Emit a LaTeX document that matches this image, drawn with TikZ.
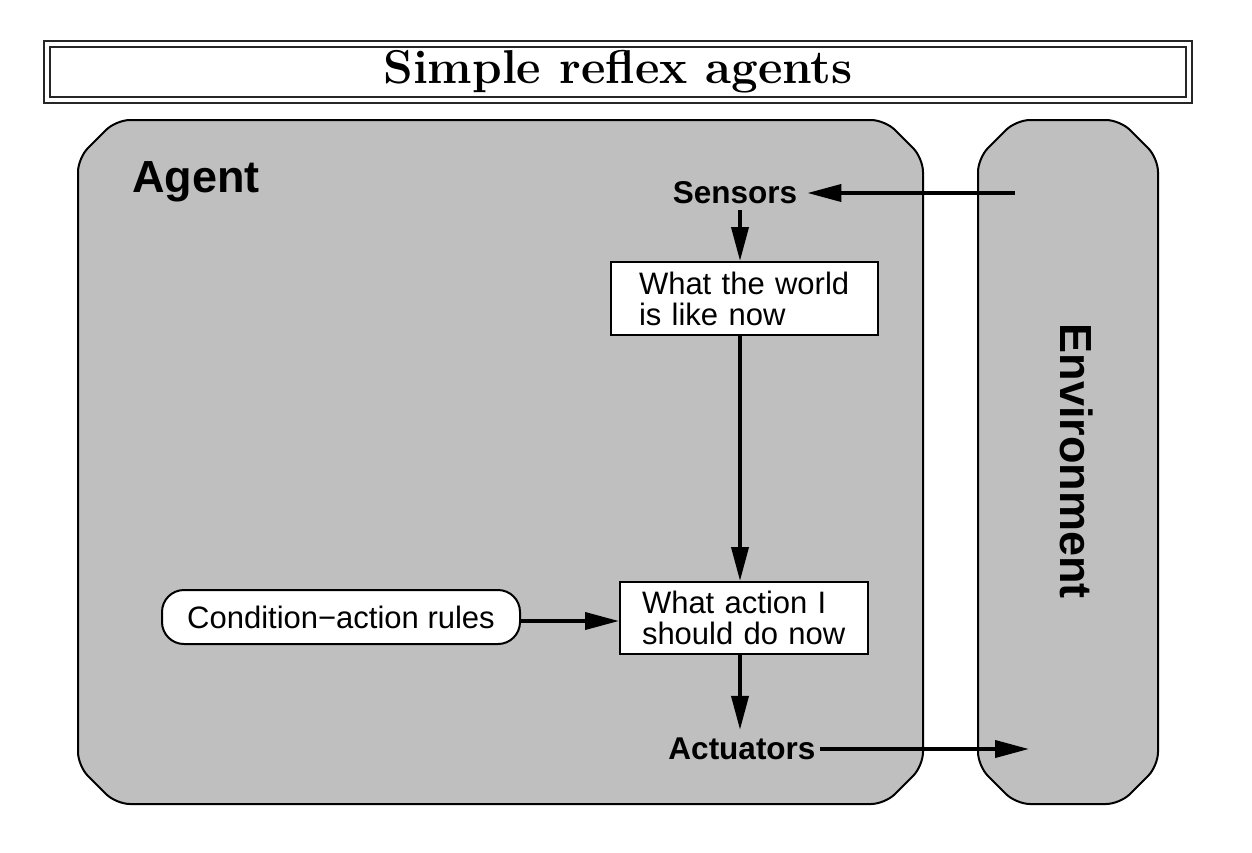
\documentclass[tikz,border=0pt]{standalone}
\usepackage{fontspec}
\setsansfont{Liberation Sans}
\usetikzlibrary{arrows.meta,calc}
\definecolor{boxgray}{RGB}{191,191,191}
\begin{document}
\begin{tikzpicture}[x=1pt,y=-1pt,
  outer/.style={draw=black,fill=boxgray,line width=2pt,rounded corners=14pt},
  arr/.style={line width=3.8pt,-{Triangle[length=34pt,width=17pt]}},
  lbl/.style={font=\sffamily\bfseries\fontsize{31.5}{34}\selectfont,inner sep=0pt},
  big/.style={font=\sffamily\bfseries\fontsize{45}{50}\selectfont,inner sep=0pt},
  wbox/.style={draw=black,fill=white,line width=2pt,font=\sffamily\fontsize{31}{31}\selectfont,align=left,inner ysep=0pt}
]
\useasboundingbox (0,0) rectangle (1252,852);
% title
\node[draw=black!85,double,double distance=4.5pt,line width=1.8pt,minimum width=1142pt,minimum height=56pt,inner sep=0pt,
      font=\bfseries\fontsize{47.5}{50}\selectfont] (title) at (618,72) {Simple reflex agents};
% agent box
\draw[outer] (500,120) -- (885,120) -- (923,158) -- (923,766) -- (885,804) -- (116,804) -- (78,766) -- (78,158) -- (116,120) -- cycle;
% environment box
\draw[outer] (1068,120) -- (1120,120) -- (1158,158) -- (1158,766) -- (1120,804) -- (1016,804) -- (978,766) -- (978,158) -- (1016,120) -- cycle;
\node[big,anchor=base west] (agent) at (132,192) {Agent};
\node[big,rotate=-90] (env) at (1077,461) {Environment};
\coordinate (ax) at (740,0);
\coordinate (envin) at (1015,193);
\coordinate (envout) at (1029,749);
\node[lbl] (sensors) at (735,193) {Sensors};
\node[wbox,minimum width=267pt,minimum height=73pt,text width=211pt,inner xsep=28pt] (world) at (744.5,298.5) {What the world\\is like now};
\node[wbox,minimum width=248pt,minimum height=72pt,text width=204pt,inner xsep=22pt] (action) at (744,618) {What action I\\should do now};
\node[draw=black,fill=white,line width=2pt,rounded corners=22pt,minimum width=358pt,minimum height=54pt,inner sep=0pt,
      font=\sffamily\fontsize{31}{31}\selectfont] (rules) at (341,617) {Condition−action rules};
\node[lbl] (act) at (742,749) {Actuators};
% connectors
\draw[arr] (envin) -- ([xshift=10pt]sensors.east);
\draw[arr] ([yshift=-6pt]sensors.south -| ax) -- (world.north -| ax);
\draw[arr] (world.south -| ax) -- (action.north -| ax);
\draw[arr] (rules.east |- 0,621) -- (action.west |- 0,621);
\draw[arr] (action.south -| ax) -- ([yshift=8pt]act.north -| ax);
\draw[arr] ([xshift=4pt]act.east) -- (envout);
\end{tikzpicture}
\end{document}
